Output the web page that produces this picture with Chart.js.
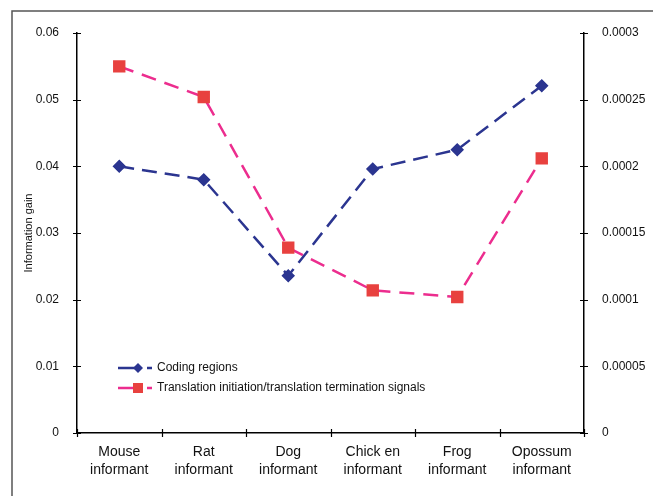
<!DOCTYPE html>
<html>
<head>
<meta charset="utf-8">
<script src="https://cdn.jsdelivr.net/npm/chart.js@4"></script>
<style>
  html, body { margin: 0; padding: 0; background: #fff; }
  #wrap { width: 653px; height: 496px; }
</style>
</head>
<body>
<div id="wrap"><canvas id="chart" width="653" height="496"></canvas></div>
<script>
// data
var categories = [['Mouse', 'informant'], ['Rat', 'informant'], ['Dog', 'informant'],
                  ['Chick en', 'informant'], ['Frog', 'informant'], ['Opossum', 'informant']];
var codingRegions = [0.0400, 0.0380, 0.0236, 0.0396, 0.0425, 0.0521];
var translationSignals = [0.000275, 0.000252, 0.000139, 0.000107, 0.000102, 0.000206];
var leftTicks = [0, 0.01, 0.02, 0.03, 0.04, 0.05, 0.06];
var rightTicks = [0, 0.00005, 0.0001, 0.00015, 0.0002, 0.00025, 0.0003];
var rightTickLabels = ['0', '0.00005', '0.0001', '0.00015', '0.0002', '0.00025', '0.0003'];

var FONT = '"Liberation Sans", Arial, sans-serif';
var BLUE = '#2b3590';
var PINK = '#ec2d8e';
var RED = '#e8413f';

// frame + tick marks crossing axes + legend
var framePlugin = {
    id: 'framePlugin',
    beforeDraw: function (chart) {
        var ctx = chart.ctx;
        ctx.save();
        ctx.strokeStyle = '#555';
        ctx.lineWidth = 1.5;
        ctx.beginPath();
        ctx.moveTo(12, chart.height);
        ctx.lineTo(12, 11);
        ctx.lineTo(chart.width, 11);
        ctx.stroke();
        ctx.restore();
    },
    afterDraw: function (chart) {
        var ctx = chart.ctx, a = chart.chartArea;
        ctx.save();
        ctx.strokeStyle = '#000';
        ctx.lineWidth = 1.2;
        ctx.beginPath();
        ['y', 'y1'].forEach(function (id) {
            var s = chart.scales[id], x = id == 'y' ? a.left : a.right;
            s.ticks.forEach(function (t, i) {
                var py = Math.round(s.getPixelForTick(i)) + 0.5;
                ctx.moveTo(x - 4, py);
                ctx.lineTo(x + 4, py);
            });
        });
        var n = categories.length;
        for (var k = 0; k <= n; k++) {
            var px = Math.round(a.left + k * (a.right - a.left) / n) + 0.5;
            ctx.moveTo(px, a.bottom - 4);
            ctx.lineTo(px, a.bottom + 4);
        }
        ctx.stroke();

        // legend
        var ly = [368, 388];
        ctx.font = '12px ' + FONT;
        ctx.textBaseline = 'middle';
        chart.data.datasets.forEach(function (ds, i) {
            var y = ly[i];
            ctx.strokeStyle = ds.borderColor;
            ctx.lineWidth = 2.5;
            ctx.beginPath();
            ctx.moveTo(118, y); ctx.lineTo(137, y);
            ctx.moveTo(147, y); ctx.lineTo(152, y);
            ctx.stroke();
            ctx.fillStyle = ds.pointBackgroundColor;
            ctx.beginPath();
            if (ds.pointStyle == 'rectRot') {
                ctx.moveTo(138, y - 5); ctx.lineTo(143, y); ctx.lineTo(138, y + 5); ctx.lineTo(133, y);
            } else {
                ctx.rect(133, y - 5, 10, 10);
            }
            ctx.fill();
            ctx.fillStyle = '#111';
            ctx.fillText(ds.label, 157, y);
        });
        ctx.restore();
    }
};

var chart = new Chart(document.getElementById('chart'), {
    type: 'line',
    data: {
        labels: categories,
        datasets: [{
            label: 'Coding regions',
            data: codingRegions,
            yAxisID: 'y',
            borderColor: BLUE,
            backgroundColor: BLUE,
            pointBackgroundColor: BLUE,
            pointBorderColor: BLUE,
            pointStyle: 'rectRot',
            pointRadius: 5,
            borderWidth: 2.5,
            borderDash: [15, 8],
            tension: 0,
            fill: false
        }, {
            label: 'Translation initiation/translation termination signals',
            data: translationSignals,
            yAxisID: 'y1',
            borderColor: PINK,
            backgroundColor: RED,
            pointBackgroundColor: RED,
            pointBorderColor: RED,
            pointStyle: 'rect',
            pointRadius: 7,
            borderWidth: 2.5,
            borderDash: [15, 9],
            tension: 0,
            fill: false
        }]
    },
    options: {
        responsive: false,
        animation: false,
        layout: { padding: { top: 33, left: 22, right: 0, bottom: 0 } },
        plugins: {
            legend: { display: false },
            tooltip: { enabled: false }
        },
        scales: {
            x: {
                offset: true,
                grid: { display: false },
                border: { display: true, color: '#000', width: 1.5 },
                ticks: {
                    color: '#111',
                    font: { family: FONT, size: 14, lineHeight: 1.3 },
                    padding: 2,
                    maxRotation: 0,
                    autoSkip: false
                },
                afterFit: function (s) { s.height = 63; }
            },
            y: {
                position: 'left',
                min: 0, max: 0.06,
                afterBuildTicks: function (s) { s.ticks = leftTicks.map(function (v) { return { value: v }; }); },
                grid: { display: false },
                border: { display: true, color: '#000', width: 1.5 },
                ticks: {
                    color: '#111',
                    font: { family: FONT, size: 12 },
                    padding: 10,
                    callback: function (v) { return String(v); }
                },
                title: {
                    display: true,
                    text: 'Information gain',
                    color: '#111',
                    font: { family: FONT, size: 11 },
                    padding: 0
                },
                afterFit: function (s) { s.width = 55; }
            },
            y1: {
                position: 'right',
                min: 0, max: 0.0003,
                afterBuildTicks: function (s) { s.ticks = rightTicks.map(function (v) { return { value: v }; }); },
                grid: { display: false },
                border: { display: true, color: '#000', width: 1.5 },
                ticks: {
                    color: '#111',
                    font: { family: FONT, size: 12 },
                    padding: 10,
                    callback: function (v, i) { return rightTickLabels[i]; }
                },
                afterFit: function (s) { s.width = 69; }
            }
        }
    },
    plugins: [framePlugin]
});
</script>
</body>
</html>
